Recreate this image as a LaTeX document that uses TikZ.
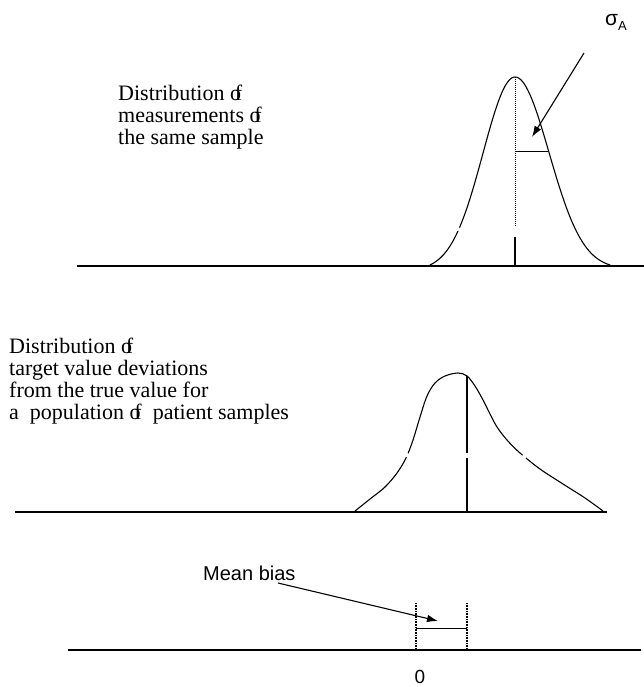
\documentclass[tikz,border=0pt]{standalone}
\usepackage{fontspec}
\setmainfont{Liberation Serif}
\newfontfamily\labsans{Liberation Sans}
\usetikzlibrary{arrows.meta}
\tikzset{
  axisline/.style={line width=2pt},
  curveline/.style={line width=1.1pt},
  centerthick/.style={line width=2pt},
  dotline/.style={line width=0.8pt, dash pattern=on 1pt off 1pt},
  thinline/.style={line width=0.9pt},
  pointer/.style={line width=1.1pt, -{Latex[length=11pt,width=7.5pt]}},
  gapdot/.style={white},
  serifnote/.style={anchor=north west, inner sep=0pt, align=left, font=\fontsize{22}{22}\selectfont},
  sanslabel/.style={inner sep=0pt, font=\labsans\fontsize{20}{20}\selectfont}
}
\newcommand{\ofx}{o\kern-0.28em f}
\begin{document}
\begin{tikzpicture}[x=1pt,y=-1pt]
\useasboundingbox (0,0) rectangle (644,687);

% ---------- top panel ----------
\coordinate (b1l) at (77,265.5);
\coordinate (b1r) at (644,265.5);
\draw[axisline] (b1l) -- (b1r);
\draw[curveline] plot[domain=-2.66:0, samples=60, smooth] ({515+32*\x},{265-188*(exp(-(\x)*(\x)/2)-0.029)/0.971});
\draw[curveline] plot[domain=0:2.8, samples=60, smooth] ({515+34*\x},{265-188*(exp(-(\x)*(\x)/2)-0.02)/0.98});
\fill[gapdot] (458,229) circle (2);
\fill[gapdot] (578,227) circle (2);
\coordinate (c1top) at (515,77);
\coordinate (c1mid) at (515,227);
\coordinate (c1low) at (515,237);
\coordinate (c1bot) at (515,265);
\draw[dotline] (c1top) -- (c1mid);
\draw[centerthick] (c1low) -- (c1bot);
\coordinate (s1a) at (515,151);
\coordinate (s1b) at (548,151);
\draw[thinline] (s1a) -- (s1b);
\node[sanslabel, anchor=base west] (sigma) at (605,26) {\fontsize{21}{21}\selectfont σ\raisebox{-4.5pt}{\fontsize{13}{13}\selectfont A}};
\coordinate (a1s) at (584,53);
\coordinate (a1e) at (532,137);
\draw[pointer] (a1s) -- (a1e);
\node[serifnote] (t1) at (118,85) {Distribution \ofx\\measurements \ofx\\the same sample};

% ---------- middle panel ----------
\coordinate (b2l) at (15,511.5);
\coordinate (b2r) at (607,511.5);
\draw[axisline] (b2l) -- (b2r);
\draw[curveline] plot[smooth, tension=0.55] coordinates {
  (355,511) (370,499) (385,487) (397,473) (406,458) (413,440) (420,417) (427,396)
  (435,383) (445,376) (458,373) (467,376) (475,386) (483,400) (490,414) (497,427)
  (507,440) (520,453) (540,469) (563,484) (585,498) (603,511)};
\fill[gapdot] (407,455) circle (2.2);
\fill[gapdot] (524,457) circle (2.2);
\coordinate (c2top) at (467,376);
\coordinate (c2mid) at (467,453);
\coordinate (c2low) at (467,458);
\coordinate (c2bot) at (467,511);
\draw[centerthick] (c2top) -- (c2mid);
\draw[centerthick] (c2low) -- (c2bot);
\node[serifnote] (t2) at (9,338) {Distribution \ofx\\target value deviations\\from the true value for\\a\ \ population \ofx\ \ patient samples};

% ---------- bottom panel ----------
\coordinate (b3l) at (68,650);
\coordinate (b3r) at (641,650);
\draw[axisline] (b3l) -- (b3r);
\coordinate (d1t) at (416,603);
\coordinate (d1b) at (416,650);
\coordinate (d2t) at (467,603);
\coordinate (d2b) at (467,650);
\draw[line width=1.1pt, dash pattern=on 1pt off 0.6pt] (d1t) -- (d1b);
\draw[line width=1.1pt, dash pattern=on 1pt off 0.6pt] (d2t) -- (d2b);
\coordinate (mb1) at (416,628);
\coordinate (mb2) at (467,628);
\draw[thinline] (mb1) -- (mb2);
\node[sanslabel, anchor=base west] (meanbias) at (203,580) {Mean bias};
\coordinate (a2s) at (278,583);
\coordinate (a2e) at (438,621);
\draw[pointer] (a2s) -- (a2e);
\node[sanslabel, anchor=center, font=\labsans\fontsize{19}{19}\selectfont] (zero) at (420,677) {0};
\end{tikzpicture}
\end{document}
